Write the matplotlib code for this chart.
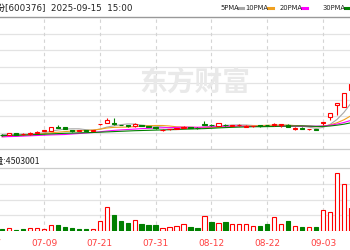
import numpy as np
import matplotlib.pyplot as plt
from matplotlib.patches import Rectangle, Polygon
from matplotlib.lines import Line2D

# trading days shown (the last ones are cut at the right edge)
dates = ['07-01', '07-02', '07-03', '07-04', '07-07', '07-08', '07-09', '07-10', '07-11',
         '07-14', '07-15', '07-16', '07-17', '07-18', '07-21', '07-22', '07-23', '07-24',
         '07-25', '07-28', '07-29', '07-30', '07-31', '08-01', '08-04', '08-05', '08-06',
         '08-07', '08-08', '08-11', '08-12', '08-13', '08-14', '08-15', '08-18', '08-19',
         '08-20', '08-21', '08-22', '08-25', '08-26', '08-27', '08-28', '08-29', '09-01',
         '09-02', '09-03', '09-04', '09-05', '09-08', '09-09']
all_days = ['06-27', '06-30'] + dates
tick_dates = ['06-27', '07-09', '07-21', '07-31', '08-12', '08-22', '09-03']

opn = [2.465, 2.465, 2.475, 2.47, 2.47, 2.48, 2.505, 2.503, 2.542, 2.535, 2.512, 2.505, 2.507,
       2.50, 2.567, 2.577, 2.582, 2.562, 2.557, 2.55, 2.56, 2.55, 2.535, 2.507, 2.515, 2.525,
       2.533, 2.54, 2.533, 2.57, 2.565, 2.55, 2.565, 2.55, 2.555, 2.545, 2.547, 2.555, 2.562,
       2.56, 2.564, 2.565, 2.522, 2.533, 2.515, 2.52, 2.582, 2.64, 2.76, 2.743, 2.91]
high = [2.47, 2.48, 2.48, 2.475, 2.49, 2.495, 2.51, 2.545, 2.56, 2.537, 2.514, 2.508, 2.51,
        2.51, 2.572, 2.633, 2.633, 2.565, 2.56, 2.58, 2.563, 2.553, 2.538, 2.517, 2.523, 2.533,
        2.55, 2.542, 2.535, 2.605, 2.567, 2.577, 2.567, 2.557, 2.57, 2.555, 2.552, 2.562, 2.565,
        2.58, 2.572, 2.567, 2.535, 2.535, 2.524, 2.522, 2.59, 2.68, 2.777, 2.88, 2.98]
low = [2.45, 2.46, 2.46, 2.465, 2.465, 2.475, 2.50, 2.50, 2.532, 2.52, 2.49, 2.50, 2.497,
       2.497, 2.565, 2.575, 2.565, 2.555, 2.545, 2.54, 2.552, 2.537, 2.525, 2.505, 2.512, 2.522,
       2.53, 2.53, 2.525, 2.557, 2.552, 2.547, 2.553, 2.547, 2.552, 2.542, 2.545, 2.545, 2.555,
       2.55, 2.54, 2.54, 2.51, 2.523, 2.508, 2.512, 2.56, 2.61, 2.66, 2.74, 2.89]
close = [2.455, 2.475, 2.465, 2.47, 2.48, 2.49, 2.505, 2.543, 2.534, 2.522, 2.505, 2.505, 2.50,
         2.507, 2.572, 2.61, 2.567, 2.557, 2.547, 2.565, 2.554, 2.54, 2.527, 2.514, 2.52, 2.53,
         2.543, 2.533, 2.528, 2.56, 2.555, 2.575, 2.555, 2.555, 2.563, 2.553, 2.55, 2.548, 2.557,
         2.57, 2.57, 2.545, 2.53, 2.525, 2.522, 2.514, 2.588, 2.677, 2.775, 2.877, 2.97]

ma5 = [2.465, 2.467, 2.468, 2.468, 2.469, 2.476, 2.482, 2.497, 2.51, 2.519, 2.522, 2.522, 2.513,
       2.508, 2.518, 2.539, 2.551, 2.563, 2.571, 2.569, 2.558, 2.553, 2.547, 2.54, 2.531, 2.526,
       2.527, 2.528, 2.531, 2.539, 2.544, 2.55, 2.555, 2.56, 2.561, 2.56, 2.555, 2.554, 2.554,
       2.556, 2.559, 2.558, 2.554, 2.548, 2.538, 2.527, 2.536, 2.565, 2.615, 2.686, 2.777]
ma10 = [2.443, 2.447, 2.452, 2.457, 2.462, 2.467, 2.474, 2.482, 2.488, 2.494, 2.499, 2.502, 2.505,
        2.509, 2.518, 2.53, 2.536, 2.538, 2.539, 2.543, 2.548, 2.552, 2.555, 2.555, 2.55, 2.542,
        2.54, 2.537, 2.535, 2.535, 2.535, 2.538, 2.541, 2.545, 2.55, 2.552, 2.553, 2.554, 2.557,
        2.558, 2.56, 2.557, 2.554, 2.551, 2.547, 2.543, 2.547, 2.56, 2.582, 2.612, 2.652]
ma20 = [2.442, 2.444, 2.446, 2.449, 2.452, 2.455, 2.458, 2.461, 2.463, 2.465, 2.47, 2.475, 2.48,
        2.485, 2.492, 2.50, 2.506, 2.511, 2.515, 2.519, 2.524, 2.527, 2.53, 2.532, 2.534, 2.536,
        2.538, 2.538, 2.537, 2.539, 2.542, 2.545, 2.548, 2.55, 2.55, 2.547, 2.546, 2.546, 2.546,
        2.546, 2.547, 2.548, 2.548, 2.548, 2.548, 2.548, 2.55, 2.557, 2.569, 2.585, 2.606]
ma30 = [2.454, 2.456, 2.458, 2.46, 2.462, 2.465, 2.468, 2.471, 2.474, 2.477, 2.479, 2.481, 2.483,
        2.485, 2.488, 2.491, 2.494, 2.497, 2.50, 2.503, 2.505, 2.507, 2.509, 2.511, 2.513, 2.515,
        2.518, 2.52, 2.522, 2.524, 2.527, 2.531, 2.534, 2.537, 2.539, 2.541, 2.543, 2.543, 2.544,
        2.545, 2.548, 2.549, 2.55, 2.551, 2.549, 2.546, 2.546, 2.55, 2.558, 2.568, 2.582]

volume = [200000, 270000, 100000, 200000, 270000, 270000, 170000, 570000, 570000, 370000,
          270000, 200000, 200000, 170000, 1000000, 2370000, 1570000, 1000000, 830000, 1100000,
          670000, 570000, 570000, 270000, 430000, 500000, 700000, 430000, 330000, 1530000,
          900000, 830000, 870000, 700000, 700000, 700000, 530000, 530000, 670000, 1430000,
          700000, 1000000, 530000, 430000, 430000, 430000, 2070000, 1870000, 5770000, 4670000,
          2270000]
# volume bar colour (1 = red hollow, 0 = green)
vol_up = [0, 1, 0, 0, 1, 1, 1, 1, 0, 0, 0, 0, 0, 1, 1, 1, 0, 0, 0, 1, 0, 0, 0, 1, 1, 1, 1,
          0, 0, 1, 0, 1, 0, 1, 1, 1, 1, 0, 0, 1, 1, 0, 1, 0, 1, 0, 1, 1, 1, 1, 1]

red = '#ff0000'
green = '#008000'
x = np.arange(len(dates))

fig = plt.figure(figsize=(3.5, 2.5), dpi=100, facecolor='white')
ax = fig.add_axes([0, 0.404, 1, 0.528])
axv = fig.add_axes([0, 0.076, 1, 0.252])

xmin, xmax = -0.31, 49.87
for a in (ax, axv):
    a.set_xlim(xmin, xmax)
    a.set_xticks([])
    a.set_yticks([])
    for s in a.spines.values():
        s.set_visible(False)

# grid
ax.set_ylim(2.32, 3.64)
for gy in np.linspace(2.32, 3.64, 9)[1:-1]:
    ax.axhline(gy, color='#e3e3e3', lw=0.9, zorder=0)
axv.set_ylim(0, 6300000)
for gy in np.linspace(0, 6300000, 5)[1:-1]:
    axv.axhline(gy, color='#e3e3e3', lw=0.9, zorder=0)
tick_x = [all_days.index(d) - 2 for d in tick_dates]
for tx in tick_x:
    ax.axvline(tx, color='#d4d4d4', lw=0.8, ls=(0, (3, 3)), zorder=0)
    axv.axvline(tx, color='#d4d4d4', lw=0.8, ls=(0, (3, 3)), zorder=0)

# watermark: logo mark + name
logo = [(98, 101), (106, 76), (130, 66), (119, 80), (133, 84), (113, 104)]
fig.add_artist(Polygon([(px / 350, 1 - py / 250) for px, py in logo], closed=True,
                       transform=fig.transFigure, facecolor='#ededed', edgecolor='none', zorder=0))
fig.text(0.557, 0.668, '东方财富', family=['Noto Sans CJK SC'], fontsize=20, fontweight='bold',
         color='#e9e9e9', ha='center', va='center', zorder=0)

# moving averages
ax.plot(x, ma5, color='#a8a8a8', lw=0.8, zorder=2)
ax.plot(x, ma10, color='#f0a020', lw=0.8, zorder=2)
ax.plot(x, ma20, color='#ff00ff', lw=0.8, zorder=2)
ax.plot(x, ma30, color=green, lw=0.8, zorder=2)

# candles
w = 0.62
for i in range(len(dates)):
    up = close[i] >= opn[i]
    c = red if up else green
    ax.vlines(x[i], low[i], high[i], color=c, lw=0.8, zorder=3)
    b0 = min(opn[i], close[i])
    bh = max(abs(close[i] - opn[i]), 0.003)
    ax.add_patch(Rectangle((x[i] - w / 2, b0), w, bh, facecolor='white' if up else c,
                           edgecolor=c, lw=0.8, zorder=4))

# volume
for i in range(len(dates)):
    c = red if vol_up[i] else green
    axv.add_patch(Rectangle((x[i] - w / 2, 0), w, volume[i], facecolor='white' if vol_up[i] else c,
                            edgecolor=c, lw=0.8, zorder=3))

# separator lines
fig.add_artist(Line2D([0, 1], [0.934, 0.934], color='#999999', lw=1))
fig.add_artist(Line2D([0, 1], [0.404, 0.404], color='#cccccc', lw=0.9))
fig.add_artist(Line2D([0, 1], [0.328, 0.328], color='#cccccc', lw=0.9))

# title line
fig.text(5 / 350, 0.968, '首开股份', family=['Noto Sans CJK SC'], fontsize=6.5, ha='right', va='center')
fig.text(5 / 350, 0.968, '[600376]  2025-09-15  15:00', family=['DejaVu Sans'], fontsize=6.3,
         ha='left', va='center', color='#222222')

# MA legend
legend = [('5PMA', '#a8a8a8', 220, 238), ('10PMA', '#f0a020', 245, 268),
          ('20PMA', '#ff00ff', 280, 302), ('30PMA', green, 322, 345)]
for name, col, px, mx in legend:
    fig.text(px / 350, 0.968, name, fontsize=4.9, ha='left', va='center', color='#222222')
    fig.add_artist(Line2D([mx / 350, (mx + 5) / 350], [0.968, 0.968], color=col, lw=2.2))

# volume header
fig.text(40 / 350, 0.356, '成交量:4503001', family=['Noto Sans CJK SC', 'DejaVu Sans'], fontsize=6.3,
         ha='right', va='center', color='#222222')

# date labels
for tx, d in zip(tick_x, tick_dates):
    axv.text(tx, -0.2, d, transform=axv.get_xaxis_transform(), fontsize=6.5, color='#ff4040',
             ha='center', va='center')

fig.savefig('out.png', dpi=100, facecolor='white')
